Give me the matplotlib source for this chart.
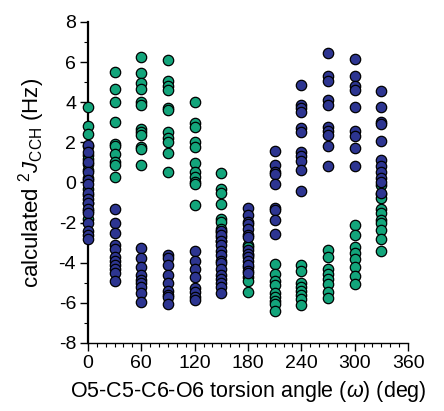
import numpy as np
import matplotlib
matplotlib.use("Agg")
import matplotlib.pyplot as plt
from matplotlib.ticker import MultipleLocator

plt.rcParams['font.family'] = ['Liberation Sans', 'DejaVu Sans']
plt.rcParams['mathtext.fontset'] = 'custom'
plt.rcParams['mathtext.rm'] = 'Liberation Sans'
plt.rcParams['mathtext.it'] = 'Liberation Sans:italic'
plt.rcParams['axes.unicode_minus'] = False

# torsion angle columns (deg)
angles = [0, 30, 60, 90, 120, 150, 180, 210, 240, 270, 300, 330]

# green series, one list per angle
green_vals = [
    [3.75, 2.8, 2.4, 1.8, 1.35, 1.15, 0.9, 0.6, 0.2, -0.3, -0.6, -1.0, -1.4, -1.8],
    [5.5, 4.65, 4.0, 3.0, 1.9, 1.8, 1.4, 1.0, 0.85, 0.25],
    [6.25, 5.45, 4.95, 4.65, 4.0, 3.85, 2.65, 2.5, 2.35, 1.75, 1.65, 0.85],
    [6.1, 5.05, 4.8, 4.6, 3.7, 3.6, 2.5, 2.2, 2.0, 1.45, 0.5],
    [4.0, 2.95, 2.75, 2.0, 1.75, 0.95, 0.5, 0.25, 0.0, -0.1, -1.1],
    [0.45, -0.3, -0.5, -1.05, -1.8, -1.95, -2.3, -2.45, -2.7, -2.9],
    [-3.1, -3.2, -3.6, -4.2, -4.7, -4.9, -5.45],
    [-4.05, -4.55, -4.9, -5.1, -5.5, -5.7, -5.9, -6.05, -6.4],
    [-4.1, -4.4, -5.0, -5.2, -5.4, -5.6, -5.8, -6.1],
    [-3.35, -3.7, -4.3, -4.55, -4.8, -5.05, -5.45, -5.75],
    [-2.1, -2.6, -3.2, -3.5, -3.8, -4.2, -4.65, -5.05],
    [-0.15, -0.55, -0.75, -1.3, -1.5, -1.85, -2.0, -2.35, -2.8, -3.4],
]

# blue series, one list per angle
blue_vals = [
    [1.85, 1.5, 1.0, 0.5, 0.1, -0.1, -0.5, -0.8, -1.0, -1.3, -1.5, -2.0, -2.4, -2.6, -2.8],
    [-1.3, -2.0, -2.5, -3.1, -3.3, -3.7, -3.9, -4.1, -4.3, -4.5, -4.9],
    [-3.25, -3.75, -4.2, -4.6, -4.85, -5.0, -5.2, -5.5, -5.95],
    [-3.6, -3.75, -4.1, -4.6, -5.0, -5.4, -5.6, -5.7, -6.05],
    [-3.4, -3.9, -4.3, -4.7, -5.25, -5.45, -5.7, -5.85],
    [-2.4, -2.6, -2.9, -3.1, -3.4, -3.6, -3.9, -4.0, -4.3, -4.6, -4.8, -5.0, -5.2, -5.5],
    [-1.25, -1.6, -1.95, -2.05, -2.3, -2.6, -2.7, -3.35, -3.55, -3.7, -3.9, -4.1, -4.4, -4.5],
    [1.55, 0.85, 0.5, 0.4, -0.1, -1.25, -1.35, -1.85, -2.55],
    [4.85, 3.85, 3.7, 3.5, 2.7, 2.5, 1.5, 1.3, 1.05, 0.6, -0.4],
    [6.45, 5.3, 5.05, 4.1, 3.85, 2.75, 2.55, 2.35, 1.8, 0.8],
    [6.15, 5.3, 4.8, 4.6, 3.75, 2.55, 2.3, 1.7, 0.8],
    [4.55, 3.75, 3.0, 2.9, 2.05, 1.1, 0.8, 0.5, 0.2, 0.0, -0.5],
]

green = '#13a57b'
blue = '#2d3591'

fig = plt.figure(figsize=(4.44, 4.11), dpi=100)
ax = fig.add_axes([0.198, 0.1655, 0.721, 0.781])

for a, vals in zip(angles, green_vals):
    ax.scatter([a] * len(vals), vals, s=56, color=green, edgecolors='black',
               linewidths=0.9, zorder=3, clip_on=False)
for a, vals in zip(angles, blue_vals):
    ax.scatter([a] * len(vals), vals, s=56, color=blue, edgecolors='black',
               linewidths=0.9, zorder=4, clip_on=False)

ax.set_xlim(0, 360)
ax.set_ylim(-8, 8)
ax.xaxis.set_major_locator(MultipleLocator(60))
ax.xaxis.set_minor_locator(MultipleLocator(10))
ax.yaxis.set_major_locator(MultipleLocator(2))
ax.yaxis.set_minor_locator(MultipleLocator(1))

ax.spines['top'].set_visible(False)
ax.spines['right'].set_visible(False)
ax.spines['left'].set_linewidth(1.6)
ax.spines['bottom'].set_linewidth(1.0)
ax.tick_params(which='major', direction='out', length=5.5, width=1.0,
               labelsize=14, pad=3)
ax.tick_params(which='minor', direction='out', length=3, width=0.8)

ax.set_xlabel(r'O5-C5-C6-O6 torsion angle ($\omega$) (deg)', fontsize=15.5, labelpad=5)
ax.set_ylabel(r'calculated $^{2}J_{\mathrm{CCH}}$ (Hz)', fontsize=16, labelpad=8)

fig.savefig('out.png', dpi=100)
